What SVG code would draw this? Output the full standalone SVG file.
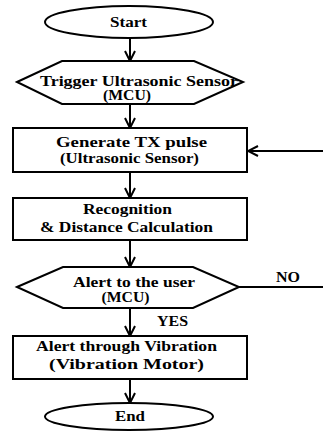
<svg xmlns="http://www.w3.org/2000/svg" width="323" height="434" viewBox="0 0 323 434">
<defs>
<style>
.shape{fill:#fff;stroke:#000;stroke-width:2}
.t{font-family:"Liberation Serif","Times New Roman",serif;font-weight:bold;font-size:14px;fill:#000;text-anchor:middle}
.lbl{font-family:"Liberation Serif","Times New Roman",serif;font-weight:bold;font-size:14px;fill:#000}
.line{fill:none;stroke:#000;stroke-width:2}
</style>
<marker id="arr" viewBox="0 0 12 12" refX="11" refY="6" markerWidth="12" markerHeight="12" markerUnits="userSpaceOnUse" orient="auto">
<path d="M1,1 L11,6 L1,11" fill="none" stroke="#000" stroke-width="2"/>
</marker>
</defs>
<rect width="323" height="434" fill="#fff"/>
<g id="connectors">
<line class="line" x1="130" y1="38" x2="130" y2="61" marker-end="url(#arr)"/>
<line class="line" x1="130" y1="104" x2="130" y2="128" marker-end="url(#arr)"/>
<line class="line" x1="130" y1="172" x2="130" y2="198" marker-end="url(#arr)"/>
<line class="line" x1="130" y1="240" x2="130" y2="267" marker-end="url(#arr)"/>
<line class="line" x1="130" y1="308" x2="130" y2="336" marker-end="url(#arr)"/>
<line class="line" x1="130" y1="379" x2="130" y2="403" marker-end="url(#arr)"/>
<line class="line" x1="239" y1="287" x2="323" y2="287"/>
<line class="line" x1="323" y1="151" x2="248" y2="151" marker-end="url(#arr)"/>
<text class="lbl" x="276" y="282" textLength="24" lengthAdjust="spacingAndGlyphs">NO</text>
<text class="lbl" x="157" y="326" textLength="31" lengthAdjust="spacingAndGlyphs">YES</text>
</g>
<g id="start">
<ellipse class="shape" cx="129" cy="22" rx="84" ry="16"/>
<text class="t" x="128.5" y="27" textLength="37" lengthAdjust="spacingAndGlyphs">Start</text>
</g>
<g id="trigger">
<polygon class="shape" points="17,82 62,61 194,61 243,82 194,104 62,104"/>
<text class="t" x="139" y="86" textLength="198" lengthAdjust="spacingAndGlyphs">Trigger Ultrasonic Sensor</text>
<text class="t" x="127" y="100" textLength="48" lengthAdjust="spacingAndGlyphs">(MCU)</text>
</g>
<g id="generate">
<rect class="shape" x="13" y="128" width="234" height="44"/>
<text class="t" x="131.5" y="147" textLength="151" lengthAdjust="spacingAndGlyphs">Generate TX pulse</text>
<text class="t" x="129.5" y="163" textLength="139" lengthAdjust="spacingAndGlyphs">(Ultrasonic Sensor)</text>
</g>
<g id="recognition">
<rect class="shape" x="13" y="198" width="234" height="42"/>
<text class="t" x="127.5" y="214" textLength="89" lengthAdjust="spacingAndGlyphs">Recognition</text>
<text class="t" x="126.5" y="232" textLength="173" lengthAdjust="spacingAndGlyphs">&amp; Distance Calculation</text>
</g>
<g id="alert">
<polygon class="shape" points="17,287 63,267 193,267 239,287 193,308 63,308"/>
<text class="t" x="134" y="287" textLength="122" lengthAdjust="spacingAndGlyphs">Alert to the user</text>
<text class="t" x="125.5" y="302" textLength="48" lengthAdjust="spacingAndGlyphs">(MCU)</text>
</g>
<g id="vibration">
<rect class="shape" x="13" y="336" width="234" height="43"/>
<text class="t" x="126.5" y="351" textLength="181" lengthAdjust="spacingAndGlyphs">Alert through Vibration</text>
<text class="t" x="126.5" y="369" textLength="155" lengthAdjust="spacingAndGlyphs">(Vibration Motor)</text>
</g>
<g id="end">
<ellipse class="shape" cx="129" cy="416.5" rx="84" ry="13.5"/>
<text class="t" x="130" y="421" textLength="30" lengthAdjust="spacingAndGlyphs">End</text>
</g>
</svg>
